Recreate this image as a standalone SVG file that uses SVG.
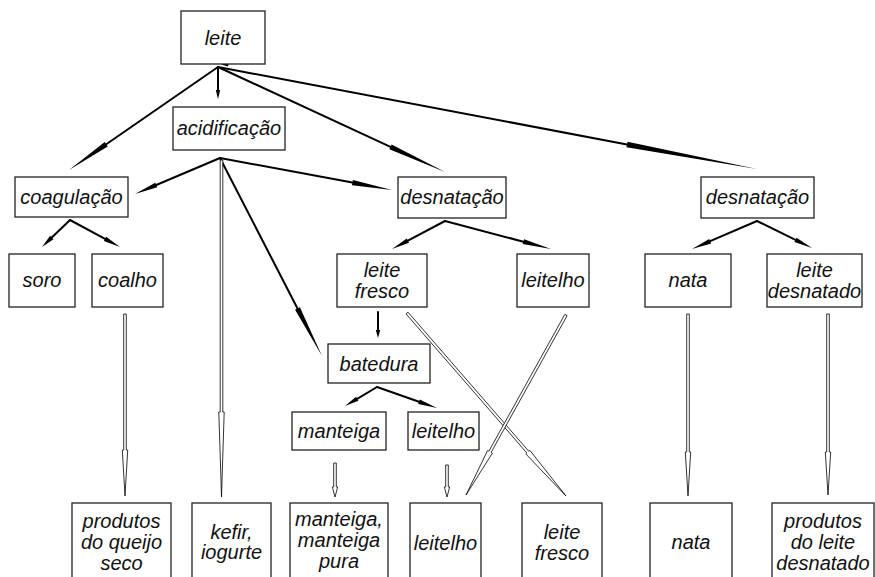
<svg xmlns="http://www.w3.org/2000/svg" width="875" height="577" viewBox="0 0 875 577">
<style>
.box{fill:#fff;stroke:#222;stroke-width:1.3}
.t{font-family:"Liberation Sans",Arial,sans-serif;font-style:italic;font-size:20px;fill:#111;text-anchor:middle}
.sh{stroke:#000;stroke-width:2;fill:none;stroke-linecap:round}
.hd{fill:#000;stroke:none}
.ho{fill:#fff;stroke:#000;stroke-width:0.8;stroke-linejoin:miter}
</style>
<rect width="875" height="577" fill="#fff"/>
<g id="connectors">
<!-- leite -->
<line class="sh" x1="218" y1="67" x2="106.25" y2="144.25"/><polygon class="hd" points="107.73,146.39 69,170 104.77,142.11"/>
<line class="sh" x1="218" y1="67" x2="218" y2="90"/><polygon class="hd" points="220.2,90 218,99 215.8,90"/>
<line class="sh" x1="218" y1="67" x2="390.5" y2="146.8"/><polygon class="hd" points="389.41,149.16 445,172 391.59,144.44"/>
<line class="sh" x1="218" y1="67" x2="627" y2="144.4"/><polygon class="hd" points="626.48,147.15 757,169 627.52,141.65"/>
<polygon class="hd" points="221,64.5 229,62.5 228,66.5"/>
<!-- acidificacao -->
<line class="sh" x1="220" y1="158" x2="156.25" y2="185"/><polygon class="hd" points="157.23,187.3 135,194 155.27,182.7"/>
<line class="sh" x1="220" y1="158" x2="352.4" y2="182.6"/><polygon class="hd" points="351.92,185.16 392,190 352.88,180.04"/>
<line class="sh" x1="220" y1="158" x2="297.5" y2="308.5"/><polygon class="hd" points="295.1,309.74 322,356 299.9,307.26"/>
<polygon class="ho" points="220.2,160 222.8,160 222.8,412 224.2,412 221.5,497 218.8,412 220.2,412"/>
<!-- coagulacao -->
<line class="sh" x1="70" y1="220" x2="51.8" y2="237.55"/><polygon class="hd" points="53.47,239.28 42,247 50.13,235.82"/>
<line class="sh" x1="70" y1="220" x2="105" y2="238.9"/><polygon class="hd" points="103.86,241.01 120,247 106.14,236.79"/>
<!-- desnatacao 1 -->
<line class="sh" x1="445" y1="221" x2="407.9" y2="240.6"/><polygon class="hd" points="409.02,242.72 392,249 406.78,238.48"/>
<line class="sh" x1="445" y1="221" x2="523.4" y2="241.7"/><polygon class="hd" points="522.76,244.12 551,249 524.04,239.28"/>
<!-- desnatacao 2 -->
<line class="sh" x1="757" y1="221" x2="710.2" y2="241.2"/><polygon class="hd" points="711.15,243.4 692,249 709.25,239"/>
<line class="sh" x1="757" y1="221" x2="795.5" y2="239.9"/><polygon class="hd" points="794.44,242.05 812,248 796.56,237.75"/>
<!-- leite fresco -> batedura -->
<line class="sh" x1="378" y1="312" x2="378" y2="330"/><polygon class="hd" points="380.2,330 378,338 375.8,330"/>
<!-- batedura -->
<line class="sh" x1="377" y1="387" x2="357.2" y2="398.8"/><polygon class="hd" points="358.37,400.78 345,406 356.03,396.82"/>
<line class="sh" x1="377" y1="387" x2="419" y2="401.7"/><polygon class="hd" points="418.21,403.96 437,408 419.79,399.44"/>
<!-- hollow arrows -->
<polygon class="ho" points="123.7,314 126.3,314 126.3,450 127.7,450 125,496 122.3,450 123.7,450"/>
<polygon class="ho" points="333.7,463 336.3,463 336.3,487 337.7,487 335,497 332.3,487 333.7,487"/>
<polygon class="ho" points="445.7,465 448.3,465 448.3,487 449.7,487 447,497 444.3,487 445.7,487"/>
<polygon class="ho" points="407.98,312.15 528.78,451.25 529.84,450.33 566,496 525.76,453.87 526.82,452.95 406.02,313.85"/>
<polygon class="ho" points="567.14,315.63 491.14,452.43 492.36,453.11 466,495 487.64,450.49 488.86,451.17 564.86,314.37"/>
<polygon class="ho" points="686.7,314 689.3,314 689.3,452 690.7,452 688,496 685.3,452 686.7,452"/>
<polygon class="ho" points="826.7,314 829.3,314 829.3,452 830.7,452 828,495 825.3,452 826.7,452"/>
</g>
<g id="n-leite"><rect class="box" x="181" y="11" width="84" height="53"/><text class="t" x="223" y="45">leite</text></g>
<g id="n-acidificacao"><rect class="box" x="173" y="107" width="112" height="43"/><text class="t" x="229" y="135">acidificação</text></g>
<g id="n-coagulacao"><rect class="box" x="15" y="177" width="113" height="40"/><text class="t" x="71.5" y="204">coagulação</text></g>
<g id="n-desnatacao1"><rect class="box" x="398" y="177" width="108" height="41"/><text class="t" x="452" y="204">desnatação</text></g>
<g id="n-desnatacao2"><rect class="box" x="701" y="177" width="113" height="41"/><text class="t" x="757.5" y="204">desnatação</text></g>
<g id="n-soro"><rect class="box" x="9" y="254" width="66" height="53"/><text class="t" x="42" y="287">soro</text></g>
<g id="n-coalho"><rect class="box" x="92" y="254" width="71" height="53"/><text class="t" x="127.5" y="287">coalho</text></g>
<g id="n-leitefresco"><rect class="box" x="337" y="254" width="90" height="53"/><text class="t" x="382" y="277">leite</text><text class="t" x="382" y="298">fresco</text></g>
<g id="n-leitelho1"><rect class="box" x="517" y="254" width="72" height="53"/><text class="t" x="553" y="287">leitelho</text></g>
<g id="n-nata"><rect class="box" x="645" y="254" width="86" height="53"/><text class="t" x="688" y="287">nata</text></g>
<g id="n-leitedesnatado"><rect class="box" x="767" y="254" width="95" height="53"/><text class="t" x="814.5" y="277">leite</text><text class="t" x="814.5" y="298">desnatado</text></g>
<g id="n-batedura"><rect class="box" x="328" y="344" width="102" height="39"/><text class="t" x="379" y="370.5">batedura</text></g>
<g id="n-manteiga"><rect class="box" x="292" y="412" width="94" height="38"/><text class="t" x="339" y="438">manteiga</text></g>
<g id="n-leitelho2"><rect class="box" x="408" y="412" width="71" height="38"/><text class="t" x="443.5" y="438">leitelho</text></g>
<g id="n-queijo"><rect class="box" x="72" y="503" width="99" height="80"/><text class="t" x="121.5" y="528">produtos</text><text class="t" x="121.5" y="549">do queijo</text><text class="t" x="121.5" y="570">seco</text></g>
<g id="n-kefir"><rect class="box" x="192" y="503" width="79" height="80"/><text class="t" x="231.5" y="539">kefir,</text><text class="t" x="231.5" y="559">iogurte</text></g>
<g id="n-manteigapura"><rect class="box" x="290" y="503" width="98" height="80"/><text class="t" x="339" y="526">manteiga,</text><text class="t" x="339" y="547">manteiga</text><text class="t" x="339" y="568">pura</text></g>
<g id="n-leitelho3"><rect class="box" x="410" y="503" width="71" height="80"/><text class="t" x="445.5" y="550">leitelho</text></g>
<g id="n-leitefresco2"><rect class="box" x="522" y="503" width="80" height="80"/><text class="t" x="562" y="539">leite</text><text class="t" x="562" y="560">fresco</text></g>
<g id="n-nata2"><rect class="box" x="650" y="503" width="82" height="80"/><text class="t" x="691" y="549">nata</text></g>
<g id="n-leitedesnatado2"><rect class="box" x="772" y="503" width="102" height="80"/><text class="t" x="823" y="528">produtos</text><text class="t" x="823" y="549">do leite</text><text class="t" x="823" y="570">desnatado</text></g>
</svg>
